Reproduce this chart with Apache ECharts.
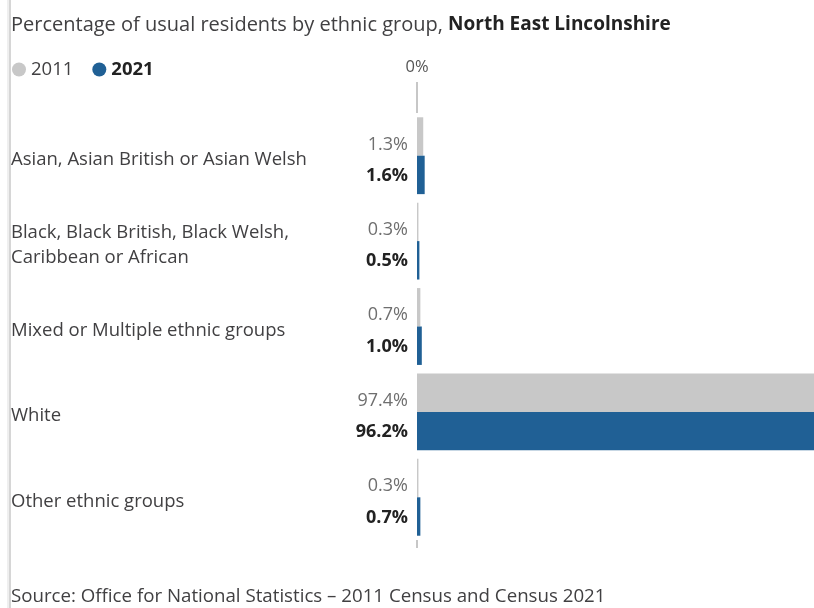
<!DOCTYPE html>
<html>
<head>
<meta charset="utf-8">
<style>
  html, body { margin: 0; padding: 0; background: #fff; }
  #chart { width: 814px; height: 608px; }
</style>
<script src="https://cdn.jsdelivr.net/npm/echarts@6/dist/echarts.min.js"></script>
</head>
<body>
<div id="chart"></div>
<script>
// Ethnic groups and their share of usual residents (%)
const categories = [
  'Asian, Asian British or Asian Welsh',
  'Black, Black British, Black Welsh,\nCaribbean or African',
  'Mixed or Multiple ethnic groups',
  'White',
  'Other ethnic groups'
];
const values2011 = [1.3, 0.3, 0.7, 97.4, 0.3];
const values2021 = [1.6, 0.5, 1.0, 96.2, 0.7];
const xTickLabels = { 0: '0%' };

const FONT = '"Open Sans", "Noto Sans", sans-serif';
const TEXT = '#414042';
const GREY = '#c8c8c8';
const BLUE = '#206095';
const FS = 18.5;

const chart = echarts.init(document.getElementById('chart'));

chart.setOption({
  animation: false,
  textStyle: { fontFamily: FONT },
  title: [
    {
      left: 11, top: 15, padding: 0,
      text: '{n|Percentage of usual residents by ethnic group, }{b|North East Lincolnshire}',
      textStyle: {
        fontWeight: 'normal',
        rich: {
          n: { fontFamily: FONT, fontSize: 20, fontWeight: 'normal', color: TEXT },
          b: { fontFamily: FONT, fontSize: 19, fontWeight: 'bold', color: '#222' }
        }
      }
    },
    {
      left: 11, top: 587, padding: 0,
      text: 'Source: Office for National Statistics \u2013 2011 Census and Census 2021',
      textStyle: { fontFamily: FONT, fontSize: 18.7, fontWeight: 'normal', color: TEXT }
    }
  ],
  legend: {
    left: 12, top: 60, padding: 0,
    icon: 'circle',
    itemWidth: 14, itemHeight: 14, itemGap: 19,
    textStyle: { fontFamily: FONT, fontSize: FS, color: TEXT },
    data: [
      { name: '2011' },
      { name: '2021', textStyle: { fontWeight: 'bold', color: '#222' } }
    ]
  },
  graphic: [
    { type: 'rect', shape: { x: 7, y: 0, width: 2, height: 608 }, style: { fill: '#efefef' }, silent: true },
    { type: 'rect', shape: { x: 9, y: 0, width: 2, height: 608 }, style: { fill: '#d6d6d6' }, silent: true }
  ],
  grid: { left: 417, width: 480, top: 113, height: 427, outerBoundsMode: 'none', containLabel: false },
  xAxis: [
    {
      type: 'value', position: 'top', min: 0, max: 100, interval: 100,
      splitLine: { show: false },
      axisLine: { show: false },
      axisTick: { show: true, length: 31, lineStyle: { color: '#b5b5b5', width: 1.5 } },
      axisLabel: {
        margin: 37, fontSize: 16.5, color: '#555', fontFamily: FONT,
        formatter: v => xTickLabels[v] || ''
      }
    },
    {
      type: 'value', position: 'bottom', min: 0, max: 100, interval: 100,
      splitLine: { show: false },
      axisLine: { show: false },
      axisTick: { show: true, length: 8, lineStyle: { color: '#b5b5b5', width: 1.5 } },
      axisLabel: { show: false }
    }
  ],
  yAxis: {
    type: 'category', inverse: true, data: categories,
    axisLine: { show: false }, axisTick: { show: false },
    axisLabel: {
      align: 'left', margin: 406, fontSize: FS, lineHeight: 25,
      color: TEXT, fontFamily: FONT,
      // a thin empty first line nudges the category names slightly downward
      formatter: v => '{s|}\n' + v,
      rich: { s: { lineHeight: 8, fontSize: 1 } }
    }
  },
  series: [
    {
      name: '2011', type: 'bar', data: values2011,
      barGap: '0%', barCategoryGap: '10%',
      itemStyle: { color: GREY },
      label: {
        show: true, position: 'left', distance: 9, offset: [0, 8],
        fontSize: 18, color: '#6f6f6f', fontFamily: FONT,
        formatter: p => p.value.toFixed(1) + '%'
      }
    },
    {
      name: '2021', type: 'bar', data: values2021,
      itemStyle: { color: BLUE },
      label: {
        show: true, position: 'left', distance: 9, offset: [0, 1],
        fontSize: 18, fontWeight: 'bold', color: '#222', fontFamily: FONT,
        formatter: p => p.value.toFixed(1) + '%'
      }
    }
  ]
});
</script>
</body>
</html>
